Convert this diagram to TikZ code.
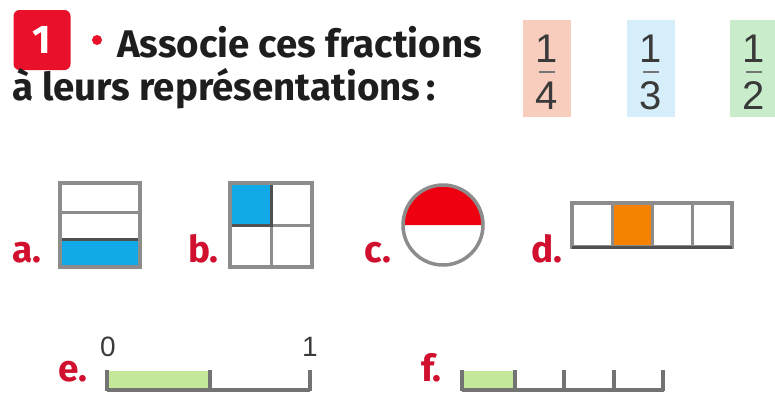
\documentclass[tikz,border=0pt]{standalone}
\usepackage{fontspec}
\setmainfont{Fira Sans}
\newfontfamily\numfont{Liberation Sans}
\definecolor{badgered}{HTML}{E8102A}
\definecolor{labred}{HTML}{D0102E}
\definecolor{pinkbg}{HTML}{F9CDBE}
\definecolor{bluebg}{HTML}{D5EEFA}
\definecolor{greenbg}{HTML}{C9EDCB}
\definecolor{fillblue}{HTML}{12A9E9}
\definecolor{fillred}{HTML}{EE0010}
\definecolor{fillorange}{HTML}{F58200}
\definecolor{fillgreen}{HTML}{C3E89A}
\definecolor{bordergray}{HTML}{8C8C8C}
\definecolor{darkline}{HTML}{505050}
\definecolor{txt}{HTML}{1E1E1E}
\definecolor{numcol}{HTML}{3A3A3A}
\tikzset{
  maintext/.style={anchor=base west, inner sep=0pt, text=txt, font=\fontsize{38.5}{44}\selectfont\bfseries},
  lab/.style={anchor=base west, inner sep=0pt, text=labred, font=\fontsize{37}{44}\selectfont\bfseries},
  fracbox/.style={minimum width=48pt, minimum height=97pt, inner sep=0pt},
  fracnum/.style={inner sep=0pt, text=numcol, font=\numfont\fontsize{40}{44}\selectfont},
  axisnum/.style={inner sep=0pt, text=numcol, font=\numfont\fontsize{28}{30}\selectfont},
  shapeborder/.style={draw=bordergray, line width=3.5pt},
  inner/.style={draw=darkline, line width=3pt},
  axis/.style={draw=darkline!80, line width=4pt},
}
\begin{document}
\begin{tikzpicture}[x=1pt,y=-1pt]
\useasboundingbox (0,0) rectangle (775,392);
\fill[white] (0,0) rectangle (775,392);
% header
\node[fill=badgered, rounded corners=6pt, minimum width=57pt, minimum height=60pt, inner sep=0pt,
      text=white, font=\fontsize{40}{44}\selectfont\bfseries] (badge) at (42,40) {1};
\fill[badgered] (97,40) circle (5pt);
\node[maintext] (t1) at (117,57) {Associe ces fractions};
\node[maintext] (t2) at (12,100) {à leurs représentations\,:};
% fractions
\node[fracbox, fill=pinkbg] (b4) at (547,68.5) {};
\node[fracnum] (n4) at (547,49) {1};
\node[fracnum] (d4) at (547,96) {4};
\draw[numcol!70, line width=1.2pt] (539,72) -- (555,72);
\node[fracbox, fill=bluebg] (b3) at (651,68.5) {};
\node[fracnum] (n3) at (651,49) {1};
\node[fracnum] (d3) at (651,96) {3};
\draw[numcol!70, line width=1.2pt] (643,72) -- (659,72);
\node[fracbox, fill=greenbg] (b2) at (754,68.5) {};
\node[fracnum] (n2) at (754,49) {1};
\node[fracnum] (d2) at (754,96) {2};
\draw[numcol!70, line width=1.2pt] (746,72) -- (762,72);
% a
\node[lab] (la) at (12,262) {a.};
\fill[fillblue] (60,239) rectangle (140,267);
\draw[bordergray, line width=3pt] (60,212) -- (140,212);
\draw[inner] (60,239) -- (140,239);
\draw[shapeborder] (60,183) rectangle (140,267);
% b
\node[lab] (lb) at (188,262) {b.};
\fill[fillblue] (230,183) rectangle (271,225);
\draw[bordergray, line width=3pt] (271,183) -- (271,267);
\draw[bordergray, line width=3pt] (230,225) -- (312,225);
\draw[inner] (230,225) -- (271,225) -- (271,183);
\draw[shapeborder] (230,183) rectangle (312,267);
% c
\node[lab] (lc) at (364,262) {c.};
\fill[fillred] (403,225) arc[start angle=180, end angle=0, radius=40pt] -- cycle;
\draw[shapeborder] (443,225) circle[radius=40pt];
% d
\node[lab] (ld) at (531,262) {d.};
\fill[fillorange] (612,203) rectangle (652,247);
\draw[bordergray, line width=3pt] (612,203) -- (612,247);
\draw[bordergray, line width=3pt] (652,203) -- (652,247);
\draw[bordergray, line width=3pt] (692,203) -- (692,247);
\draw[shapeborder] (572,203) rectangle (732,247);
\draw[darkline, line width=3pt] (572,247) -- (732,247);
% e
\node[lab] (le) at (58,381) {e.};
\node[axisnum] (z0) at (108,347) {0};
\node[axisnum] (z1) at (310,347) {1};
\fill[fillgreen] (107,371) rectangle (210,389);
\draw[axis] (107,390) -- (310,390);
\draw[axis] (107,370) -- (107,391);
\draw[axis] (210,370) -- (210,391);
\draw[axis] (310,370) -- (310,391);
% f
\node[lab] (lf) at (421,381) {f.};
\fill[fillgreen] (462,371) rectangle (515,389);
\draw[axis] (462,390) -- (664,390);
\draw[axis] (462,370) -- (462,391);
\draw[axis] (515,370) -- (515,391);
\draw[axis] (564,370) -- (564,391);
\draw[axis] (614,370) -- (614,391);
\draw[axis] (663,370) -- (663,391);
\end{tikzpicture}
\end{document}
